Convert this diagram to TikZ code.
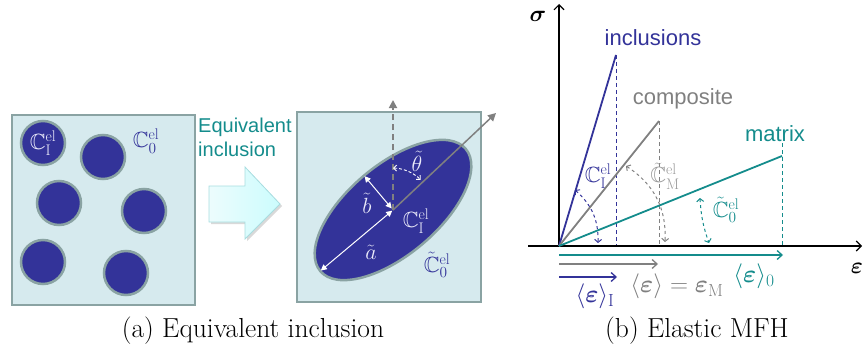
\documentclass[tikz,border=0pt]{standalone}
\usepackage{fix-cm}
\usepackage{amsmath,amssymb,bm}
\usepackage{fontspec}
\newfontfamily\arialf{Liberation Sans}
\usetikzlibrary{shapes.geometric,arrows.meta,shadows,calc}
\definecolor{navy}{RGB}{51,51,153}
\definecolor{tealc}{RGB}{20,140,140}
\definecolor{greyc}{RGB}{128,128,128}
\definecolor{boxfill}{RGB}{214,234,238}
\definecolor{boxdraw}{RGB}{138,163,163}
\definecolor{arrfill}{RGB}{224,250,252}
\definecolor{arrdraw}{RGB}{168,221,224}
\definecolor{lav}{RGB}{235,235,250}
\tikzset{
  box/.style={draw=boxdraw,fill=boxfill,line width=2.5pt,inner sep=0},
  incl/.style={circle,draw=boxdraw,fill=navy,line width=2.5pt,minimum size=44pt,inner sep=0},
  mlab/.style={font=\fontsize{22}{24}\selectfont,inner sep=1pt},
  elab/.style={font=\fontsize{25}{27}\selectfont,inner sep=1pt},
  slab/.style={font=\arialf\fontsize{22}{24}\selectfont,inner sep=0},
  axis/.style={line width=1.1pt,-{Straight Barb[length=5pt,width=10pt]}},
  curve/.style={line width=1.8pt},
  vdash/.style={dashed,line width=0.8pt,dash pattern=on 4pt off 3pt},
  carr/.style={dashed,line width=1pt,{Straight Barb[length=3pt,width=7pt]}-{Straight Barb[length=3pt,width=7pt]}},
  harr/.style={line width=1.3pt,-{Straight Barb[length=5pt,width=9pt]}},
  captext/.style={font=\fontsize{27.5}{30}\selectfont,inner sep=0},
}
\begin{document}
\begin{tikzpicture}[x=1pt,y=-1pt]
\useasboundingbox (0,0) rectangle (865,353);
% ---------- (a) left square
\node[box,minimum width=183pt,minimum height=190pt] (boxA) at (103.5,210) {};
\node[incl] (c1) at (43,143) {};
\node[incl] (c2) at (103,157) {};
\node[incl] (c3) at (59,203) {};
\node[incl] (c4) at (144,211) {};
\node[incl] (c5) at (43,262) {};
\node[incl] (c6) at (126,273) {};
\node[mlab,text=lav] (lCI) at (c1) {$\mathbb{C}^{\mathrm{el}}_{\mathrm{I}}$};
\node[mlab,text=navy] (lC0) at (146,141) {$\mathbb{C}^{\mathrm{el}}_{0}$};
% text
\node[anchor=north west,align=left,text=tealc,font=\arialf\fontsize{20}{23.5}\selectfont,inner sep=0] (eqt) at (198,118) {Equivalent\\inclusion};
% block arrow
\path[fill=arrfill,draw=arrdraw,line width=0.8pt,drop shadow={shadow xshift=2pt,shadow yshift=-2pt,opacity=0.3},left color=white!40!arrfill,right color=arrfill!85!cyan!80!white]
  (209,186) -- (245,186) -- (245,167) -- (280,204) -- (245,239) -- (245,222) -- (209,222) -- cycle;
% ---------- right square
\node[box,minimum width=184pt,minimum height=190pt] (boxB) at (389,207) {};
\node[ellipse,draw=boxdraw,fill=navy,line width=2.5pt,minimum width=190pt,minimum height=90pt,inner sep=0,rotate=40] (ell) at (393,210) {};
\coordinate (vtop) at (393,100);
\coordinate (dtop) at (496,113);
\draw[greyc,dashed,line width=1.8pt,dash pattern=on 6pt off 4pt,-{Triangle[length=8pt,width=8pt]}] (ell.center) -- (vtop);
\draw[greyc,line width=1.5pt,-{Triangle[length=8pt,width=8pt]}] (ell.center) -- (dtop);
\draw[white,line width=1pt,{Triangle[length=6pt,width=6pt]}-{Triangle[length=6pt,width=6pt]},shorten <=1pt,shorten >=2pt] (ell.center) -- (ell.west);
\draw[white,line width=1pt,{Triangle[length=6pt,width=6pt]}-{Triangle[length=6pt,width=6pt]},shorten <=2pt,shorten >=2pt] (ell.center) -- (ell.north);
\draw[white,dashed,line width=0.9pt,dash pattern=on 3pt off 2pt,{Straight Barb[length=3pt,width=6pt]}-{Straight Barb[length=3pt,width=6pt]}] ($(ell.center)+(0,-42)$) arc[start angle=-88,end angle=-46,radius=42];
\node[mlab,text=lav,fill=navy,inner sep=0.5pt] (lth) at (417,161) {$\tilde{\theta}$};
\node[mlab,text=lav] (lb) at (367,203) {$\tilde{b}$};
\node[mlab,text=lav] (la) at (371,252) {$\tilde{a}$};
\node[mlab,text=lav] (lCIb) at (416,221) {$\mathbb{C}^{\mathrm{el}}_{\mathrm{I}}$};
\node[mlab,text=navy] (lC0b) at (437,265) {$\tilde{\mathbb{C}}^{\mathrm{el}}_{0}$};
% ---------- (b) plot
\coordinate (O) at (559,246);
\coordinate (ytip) at (559,4);
\coordinate (xstart) at (528,246);
\coordinate (xtip) at (862,246);
\coordinate (pI) at (616,55);
\coordinate (pM) at (659,121);
\coordinate (p0) at (782,156);
\draw[navy,vdash] (pI) -- (pI |- O);
\draw[greyc,vdash] (pM) -- (pM |- O);
\draw[tealc,vdash] (782,143) -- (p0 |- O);
\draw[axis] (O) -- (ytip);
\draw[axis] (xstart) -- (xtip);
\draw[navy,curve] (O) -- (pI);
\draw[greyc,curve] (O) -- (pM);
\draw[tealc,curve] (O) -- (p0);
\node[slab,text=navy] (tI) at (653,38) {inclusions};
\node[slab,text=greyc] (tM) at (683,99) {composite};
\node[slab,text=tealc] (t0) at (775,134) {matrix};
\node[font=\fontsize{23}{25}\selectfont,inner sep=0] (ls) at (538,16) {$\bm{\sigma}$};
\node[font=\fontsize{23}{25}\selectfont,inner sep=0] (le) at (857,268) {$\bm{\varepsilon}$};
% curved arrows
\coordinate (aI1) at (575,190); \coordinate (aI2) at (598,243);
\coordinate (aM1) at (626,166); \coordinate (aM2) at (665,242);
\coordinate (a01) at (700,198); \coordinate (a02) at (709,243);
\draw[navy,carr] (aI1) to[bend left=25] (aI2);
\draw[greyc,carr] (aM1) to[bend left=30] (aM2);
\draw[tealc,carr] (a01) to[bend right=8] (a02);
\node[mlab,text=navy] (lpI) at (598,176) {$\mathbb{C}^{\mathrm{el}}_{\mathrm{I}}$};
\node[mlab,text=greyc!80!white] (lpM) at (665,176) {$\tilde{\mathbb{C}}^{\mathrm{el}}_{\mathrm{M}}$};
\node[mlab,text=tealc] (lp0) at (726,210) {$\tilde{\mathbb{C}}^{\mathrm{el}}_{0}$};
% horizontal strain arrows
\coordinate (h0) at (783,255); \coordinate (hM) at (658,264); \coordinate (hI) at (617,277);
\draw[tealc,harr] (O |- h0) -- (h0);
\draw[greyc,harr] (O |- hM) -- (hM);
\draw[navy,harr] (O |- hI) -- (hI);
\node[elab,text=navy] (lhI) at (595,296) {$\langle\bm{\varepsilon}\rangle_{\mathrm{I}}$};
\node[elab,text=greyc] (lhM) at (677,286) {$\langle\bm{\varepsilon}\rangle=\bm{\varepsilon}_{\mathrm{M}}$};
\node[elab,text=tealc] (lh0) at (754,276) {$\langle\bm{\varepsilon}\rangle_{0}$};
% captions
\node[captext] (capa) at (253,331) {(a) Equivalent inclusion};
\node[captext] (capb) at (697,331) {(b) Elastic MFH};
\end{tikzpicture}
\end{document}
